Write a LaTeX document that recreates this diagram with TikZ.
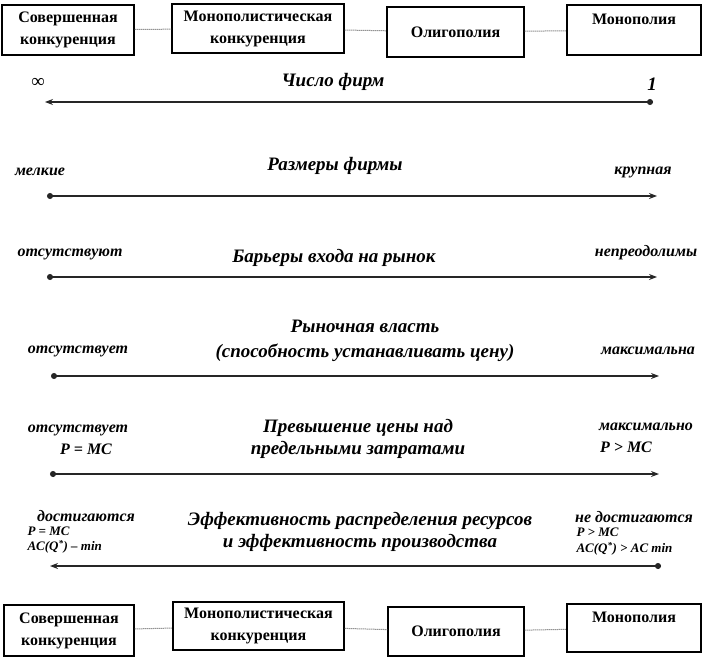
\documentclass[tikz,border=0pt]{standalone}
\usepackage{fontspec}
\setmainfont{Liberation Serif}
\usetikzlibrary{arrows.meta}
\begin{document}
\begin{tikzpicture}[x=1pt,y=-1pt,
  market/.style={draw, line width=1.4pt, inner sep=0pt, align=center,
    font=\bfseries\fontsize{16}{22}\selectfont},
  link/.style={draw=black!65, line width=1pt, densely dotted},
  title/.style={font=\bfseries\itshape\fontsize{19}{23}\selectfont, align=center},
  side/.style={font=\bfseries\itshape\fontsize{16}{18}\selectfont, align=center},
  small/.style={font=\bfseries\itshape\fontsize{13}{16}\selectfont, anchor=west},
  axisline/.style={line width=1.3pt, black!85},
  tipS/.style={Stealth[length=8pt,width=6pt]},
  tipC/.style={Circle[length=6pt]},
]
\useasboundingbox (0,0) rectangle (714,661);

% top boxes
\node[market, minimum width=132, minimum height=50] (t1) at (68,30) {Совершенная\\конкуренция};
\node[market, minimum width=172, minimum height=49] (t2) at (258,28.5) {Монополистическая\\конкуренция};
\node[market, minimum width=137, minimum height=50] (t3) at (455.5,32) {Олигополия};
\node[market, minimum width=134, minimum height=50] (t4) at (634,30) {Монополия\\\mbox{}};
\draw[link] (t1) -- (t2);
\draw[link] (t2) -- (t3);
\draw[link] (t3) -- (t4);

% bottom boxes
\node[market, minimum width=130, minimum height=51] (b1) at (69,630.5) {Совершенная\\конкуренция};
\node[market, minimum width=171, minimum height=48] (b2) at (258.5,626) {Монополистическая\\конкуренция};
\node[market, minimum width=136, minimum height=49] (b3) at (456,631.5) {Олигополия};
\node[market, minimum width=134, minimum height=48] (b4) at (634,628) {Монополия\\\mbox{}};
\draw[link] (b1) -- (b2);
\draw[link] (b2) -- (b3);
\draw[link] (b3) -- (b4);

% 1 number of firms
\node[title] (h1) at (333,82) {Число фирм};
\node[title] (l1) at (38,83) {∞};
\node[title] (r1) at (652,84) {1};
\coordinate (a1s) at (45,102);
\coordinate (a1e) at (653,102);
\draw[axisline, {Stealth[length=8pt,width=6pt]}-{Circle[length=6pt]}] (a1s) -- (a1e);

% 2 size
\node[title] (h2) at (335,166) {Размеры фирмы};
\node[side] (l2) at (40,172) {мелкие};
\node[side] (r2) at (643,172) {крупная};
\coordinate (a2s) at (47,196);
\coordinate (a2e) at (657,196);
\draw[axisline, {Circle[length=6pt]}-{Stealth[length=8pt,width=6pt]}] (a2s) -- (a2e);

% 3 barriers
\node[title] (h3) at (334,258) {Барьеры входа на рынок};
\node[side] (l3) at (70,254) {отсутствуют};
\node[side] (r3) at (646,253) {непреодолимы};
\coordinate (a3s) at (47,277);
\coordinate (a3e) at (657,277);
\draw[axisline, {Circle[length=6pt]}-{Stealth[length=8pt,width=6pt]}] (a3s) -- (a3e);

% 4 market power
\node[title, font=\bfseries\itshape\fontsize{19}{25}\selectfont] (h4) at (365,341) {Рыночная власть\\(способность устанавливать цену)};
\node[side] (l4) at (78,351) {отсутствует};
\node[side] (r4) at (648,351) {максимальна};
\coordinate (a4s) at (51,376);
\coordinate (a4e) at (659,376);
\draw[axisline, {Circle[length=6pt]}-{Stealth[length=8pt,width=6pt]}] (a4s) -- (a4e);

% 5 price over MC
\node[title, font=\bfseries\itshape\fontsize{19}{22}\selectfont] (h5) at (358,439) {Превышение цены над\\предельными затратами};
\node[side] (l5) at (78,430) {отсутствует};
\node[side] (l5b) at (86,449) {P = MC};
\node[side] (r5) at (646,427) {максимально};
\node[side] (r5b) at (626,447) {P > MC};
\coordinate (a5s) at (50,474);
\coordinate (a5e) at (659,474);
\draw[axisline, {Circle[length=6pt]}-{Stealth[length=8pt,width=6pt]}] (a5s) -- (a5e);

% 6 efficiency
\node[title, font=\bfseries\itshape\fontsize{19}{22}\selectfont] (h6) at (360,532) {Эффективность распределения ресурсов\\и эффективность производства};
\node[side] (l6) at (86,516) {достигаются};
\node[small] (l6b) at (24,531) {P = MC};
\node[small] (l6c) at (24,547) {AC(Q\textsuperscript{*}) – min};
\node[side] (r6) at (634,517) {не достигаются};
\node[small] (r6b) at (573,532) {P > MC};
\node[small] (r6c) at (573,549) {AC(Q\textsuperscript{*}) > AC min};
\coordinate (a6s) at (50,566);
\coordinate (a6e) at (661,566);
\draw[axisline, {Stealth[length=8pt,width=6pt]}-{Circle[length=6pt]}] (a6s) -- (a6e);
\end{tikzpicture}
\end{document}
